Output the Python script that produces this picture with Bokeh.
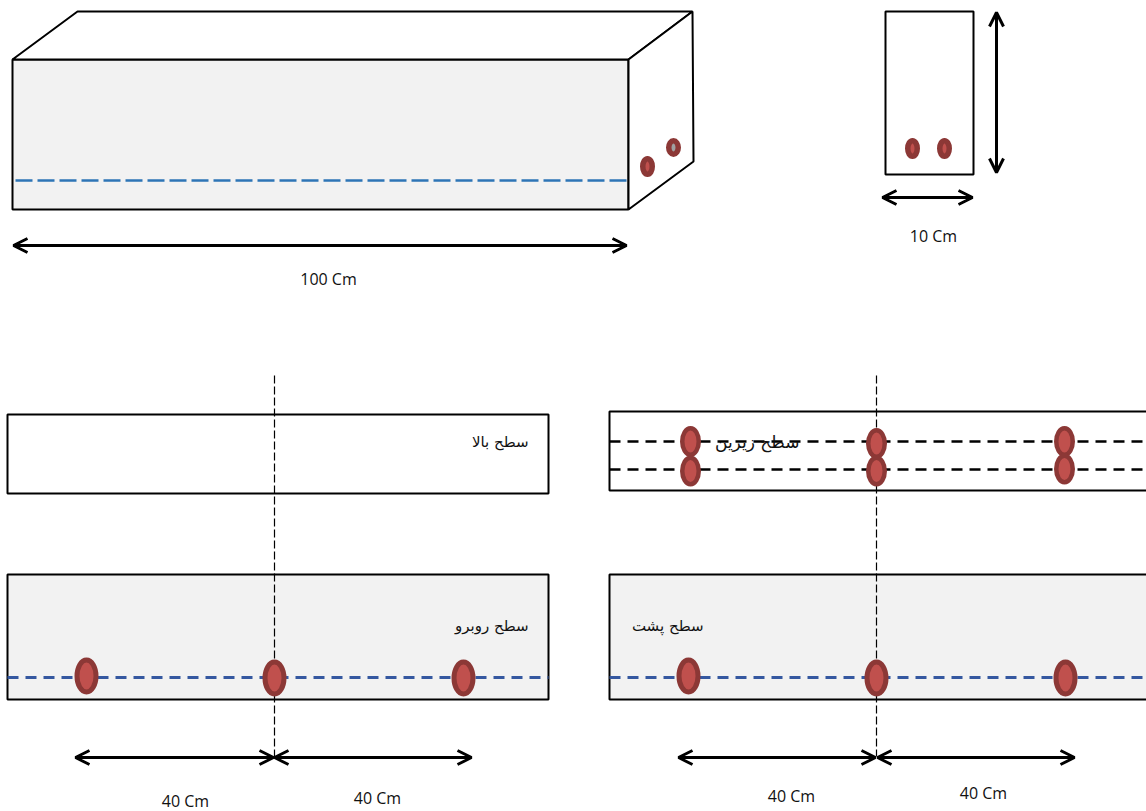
# نقشه تیر: نمای سه بعدی، مقطع و سطوح با محل نمونه ها
from bokeh.core.properties import value
from bokeh.embed import file_html
from bokeh.models import Arrow, OpenHead, Range1d
from bokeh.plotting import figure
from bokeh.resources import INLINE

# چهار ضلعی ها (سطوح)
face_xs = [[12, 628, 628, 12], [12, 77, 692, 628], [628, 692, 693, 628], [885, 973, 973, 885],
           [7, 548, 548, 7], [7, 548, 548, 7], [609, 1150, 1150, 609], [609, 1150, 1150, 609]]
face_ys = [[59, 59, 209, 209], [59, 11, 11, 59], [59, 11, 161, 209], [11, 11, 174, 174],
           [414, 414, 493, 493], [574, 574, 699, 699], [411, 411, 490, 490], [574, 574, 699, 699]]
face_fill = ["#f2f2f2", "#ffffff", "#ffffff", "#ffffff", "#ffffff", "#f2f2f2", "#ffffff", "#f2f2f2"]

# خطوط خط چین
blue_top_x = [15, 628]
blue_top_y = [180, 180]
blue_xs = [[7, 548], [609, 1146]]
blue_ys = [[677, 677], [677, 677]]
black_xs = [[609, 1146], [609, 1146]]
black_ys = [[441, 441], [469, 469]]
center_xs = [[274, 274], [876, 876]]
center_ys = [[375, 756], [375, 756]]

# نمونه ها
big_x = [86, 274, 463, 688, 876, 1065]
big_y = [675.5, 677.5, 677.5, 675.5, 677.5, 677.5]
mid_x = [690, 690, 876, 876, 1064, 1064]
mid_y = [441, 470.5, 443, 470.5, 441, 468.5]
small_x = [647, 912, 944]
small_y = [166, 148, 148]
grey_x = [673]
grey_y = [147]

# پیکان ها (x1, y1, x2, y2)
arrows = [(13, 245, 626, 245), (996, 12, 996, 172), (882, 197, 972, 197),
          (75, 757, 273, 757), (274, 757, 471, 757), (678, 757, 875, 757), (877, 757, 1074, 757)]

# نوشته ها
label_x = [328, 933, 185, 377, 791, 983]
label_y = [278, 235, 800, 797, 795, 792]
label_text = ["100 Cm", "10 Cm", "40 Cm", "40 Cm", "40 Cm", "40 Cm"]
fa_x = [528, 528, 703]
fa_y = [441, 625, 625]
fa_text = ["سطح بالا", "سطح روبرو", "سطح پشت"]
bottom_x = [799]
bottom_y = [441]
bottom_text = ["سطح زیرین"]

p = figure(width=1146, height=811, x_range=Range1d(0, 1146), y_range=Range1d(811, 0),
           output_backend="svg", toolbar_location=None, min_border=0)
p.axis.visible = False
p.grid.visible = False
p.outline_line_color = None

p.patches(face_xs, face_ys, fill_color=face_fill, line_color="#000000", line_width=2)

p.line(blue_top_x, blue_top_y, line_color="#2e75b6", line_width=2.5, line_dash="17 5")
p.multi_line(blue_xs, blue_ys, line_color="#3558a0", line_width=3, line_dash="11 7")
p.multi_line(black_xs, black_ys, line_color="#000000", line_width=2.5, line_dash="11 7")
p.multi_line(center_xs, center_ys, line_color="#000000", line_width=1.2, line_dash="8 3")

red_fill = "#c0504d"
red_line = "#8c3836"
p.ellipse(big_x, big_y, width=19, height=32, fill_color=red_fill, line_color=red_line, line_width=5)
p.ellipse(mid_x, mid_y, width=16.5, height=26.5, fill_color=red_fill, line_color=red_line, line_width=4.5)
p.ellipse(small_x, small_y, width=9.5, height=15.5, fill_color=red_fill, line_color=red_line, line_width=5.5)
p.ellipse(grey_x, grey_y, width=9.5, height=13.5, fill_color="#a0a0a0", line_color=red_line, line_width=5.5)

for x1, y1, x2, y2 in arrows:
    p.add_layout(Arrow(x_start=x1, y_start=y1, x_end=x2, y_end=y2, line_width=3, line_color="#000000",
                       start=OpenHead(size=14, line_width=3, line_color="#000000"),
                       end=OpenHead(size=14, line_width=3, line_color="#000000")))

p.text(label_x, label_y, text=label_text, text_align="center", text_baseline="middle",
       text_font=value("Open Sans"), text_font_size="16px", text_color="#111111")
p.text(fa_x, fa_y, text=fa_text, text_align="right", text_baseline="middle",
       text_font=value("DejaVu Sans"), text_font_size="15px", text_color="#111111")
p.text(bottom_x, bottom_y, text=bottom_text, text_align="right", text_baseline="middle",
       text_font=value("DejaVu Sans"), text_font_size="17px", text_color="#111111")

open("out.html", "w").write(file_html(p, INLINE))
